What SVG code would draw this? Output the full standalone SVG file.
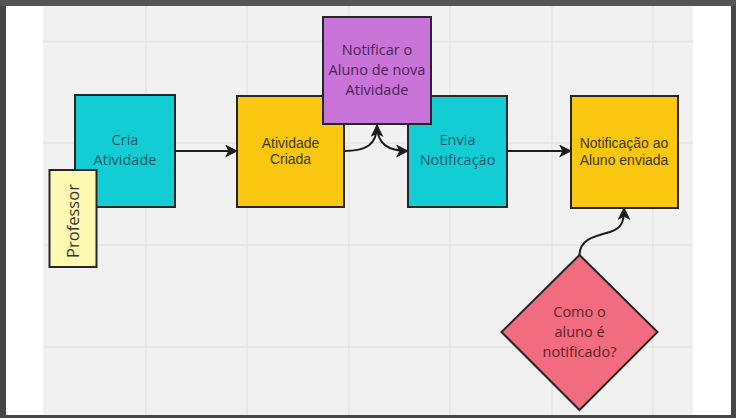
<svg xmlns="http://www.w3.org/2000/svg" width="736" height="418" viewBox="0 0 736 418">
<defs>
<style>
.box{stroke:#262626;stroke-width:2}
.grid{stroke:#e5e5e5;stroke-width:1.5}
.os{font-family:"Open Sans","Liberation Sans",sans-serif;font-size:14.5px;text-anchor:middle}
.ar{font-family:"Liberation Sans",Arial,sans-serif;font-size:14px;text-anchor:middle}
.conn{fill:none;stroke:#1e1e1e;stroke-width:2}
</style>
<marker id="ah" viewBox="0 0 12 12" refX="11" refY="6" markerWidth="13" markerHeight="13" markerUnits="userSpaceOnUse" orient="auto">
<path d="M0,0 L12,6 L0,12 L3,6 Z" fill="#1e1e1e"/>
</marker>
</defs>
<rect x="0" y="0" width="736" height="418" fill="#464646"/>
<rect x="0" y="0" width="736" height="6" fill="#555555"/>
<rect x="6" y="6" width="725" height="409" fill="#ffffff"/>
<rect x="43" y="6" width="650" height="409" fill="#f1f1f1"/>
<g id="grid">
<line class="grid" x1="146" y1="6" x2="146" y2="415"/>
<line class="grid" x1="247" y1="6" x2="247" y2="415"/>
<line class="grid" x1="349" y1="6" x2="349" y2="415"/>
<line class="grid" x1="450" y1="6" x2="450" y2="415"/>
<line class="grid" x1="552" y1="6" x2="552" y2="415"/>
<line class="grid" x1="653" y1="6" x2="653" y2="415"/>
<line class="grid" x1="43" y1="41.5" x2="693" y2="41.5"/>
<line class="grid" x1="43" y1="143" x2="693" y2="143"/>
<line class="grid" x1="43" y1="245" x2="693" y2="245"/>
<line class="grid" x1="43" y1="347" x2="693" y2="347"/>
</g>
<g id="cria">
<rect class="box" x="75" y="95" width="100" height="112" fill="#12cdd4"/>
<text class="os" fill="#245a66" x="125" y="145">Cria</text>
<text class="os" fill="#245a66" x="125" y="165">Atividade</text>
</g>
<g id="professor">
<rect class="box" x="49.5" y="170" width="47" height="97" fill="#fff9b1"/>
<text class="os" fill="#333333" style="font-size:16.5px" transform="translate(78.5,221) rotate(-90)">Professor</text>
</g>
<g id="atividade-criada">
<rect class="box" x="237" y="96" width="107" height="111" fill="#fac710"/>
<text class="ar" fill="#3f3a1c" x="290.5" y="148">Atividade</text>
<text class="ar" fill="#3f3a1c" x="290.5" y="164">Criada</text>
</g>
<g id="envia">
<rect class="box" x="408" y="96" width="99" height="111" fill="#12cdd4"/>
<text class="os" fill="#245a66" x="457.5" y="145">Envia</text>
<text class="os" fill="#245a66" x="457.5" y="165">Notificação</text>
</g>
<g id="notificar">
<rect class="box" x="323" y="17" width="108" height="107" fill="#c874d9"/>
<text class="os" fill="#4d2456" x="377" y="55">Notificar o</text>
<text class="os" fill="#4d2456" x="377" y="75">Aluno de nova</text>
<text class="os" fill="#4d2456" x="377" y="95">Atividade</text>
</g>
<g id="notificacao-enviada">
<rect class="box" x="571" y="96" width="107" height="112" fill="#fac710"/>
<text class="ar" fill="#3f3a1c" x="624" y="148">Notificação ao</text>
<text class="ar" fill="#3f3a1c" x="624" y="165">Aluno enviada</text>
</g>
<g id="como">
<polygon class="box" points="579.5,255 657.5,332 579.5,410 501.5,332" fill="#f16c7f"/>
<text class="os" fill="#5e1f2b" x="579.5" y="317">Como o</text>
<text class="os" fill="#5e1f2b" x="579.5" y="337">aluno é</text>
<text class="os" fill="#5e1f2b" x="579.5" y="357">notificado?</text>
</g>
<g id="connectors">
<line class="conn" x1="175" y1="151" x2="237" y2="151" marker-end="url(#ah)"/>
<path class="conn" d="M344,151 C366,151 377,145 377,125" marker-end="url(#ah)"/>
<path class="conn" d="M377,125 C377,144 388,151 408,151" marker-end="url(#ah)"/>
<line class="conn" x1="507" y1="151" x2="571" y2="151" marker-end="url(#ah)"/>
<path class="conn" d="M579.5,255 C580,240 592,237 610,232 C622,228 624,222 624,208" marker-end="url(#ah)"/>
</g>
</svg>
